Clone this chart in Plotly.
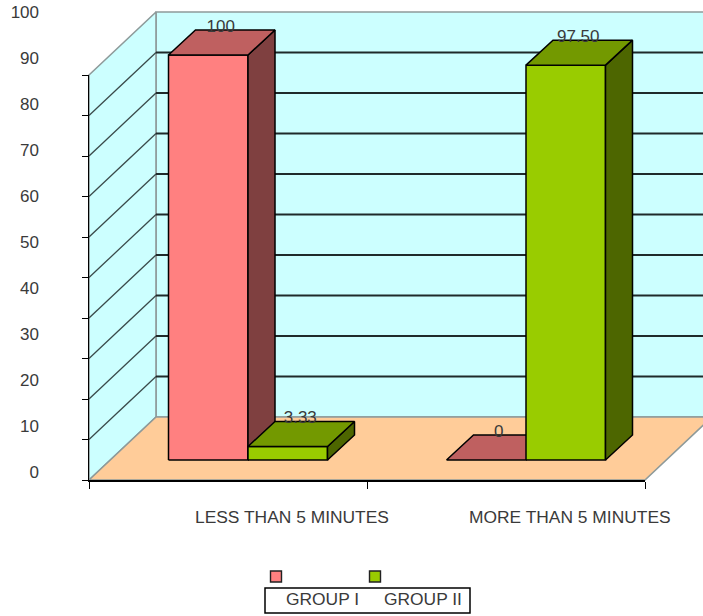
import plotly.graph_objects as go

# Chart data
categories = ["LESS THAN 5 MINUTES", "MORE THAN 5 MINUTES"]
series_names = ["GROUP I", "GROUP II"]
group_1 = [100, 0]
group_2 = [3.33, 97.5]
group_1_labels = ["100", "0"]
group_2_labels = ["3.33", "97.50"]
value_ticks = list(range(0, 101, 10))

# Face colours: front, side, top
palette_1 = ("#FF8080", "#7F4040", "#BF6060")
palette_2 = ("#99CC00", "#4D6600", "#739900")
WALL = "#CCFFFF"
FLOOR = "#FFCC99"
EDGE_GREY = "#8E9A9A"
TEXT = "#3A3A3A"
FONT = "Liberation Sans"
FONT_SIZE = 17
CAPTION_SIZE = 17.4

# Page and axis geometry, in pixels
W, H = 703, 616
AX_LEFT, AX_RIGHT = 89, 645
AX_BOTTOM, AX_TOP = 480, 75
PX_PER_CAT = (AX_RIGHT - AX_LEFT) / len(categories)
PX_PER_VAL = (AX_BOTTOM - AX_TOP) / 100


def cx(px):
    return px / PX_PER_CAT


def vy(px):
    return px / PX_PER_VAL


# Oblique projection offsets, expressed in axis units
WALL_DX, WALL_DY = cx(67), vy(63)
BAR_INSET_X, BAR_INSET_Y = cx(20), vy(20)
BAR_W = cx(79.5)
BAR_DX, BAR_DY = cx(27), vy(25)

fig = go.Figure()


def polygon(xs, ys, fill, line_color="black", width=1.5):
    fig.add_trace(go.Scatter(
        x=xs + xs[:1], y=ys + ys[:1], mode="lines", fill="toself",
        fillcolor=fill, line=dict(color=line_color, width=width),
        hoverinfo="skip", showlegend=False, xaxis="x", yaxis="y"))


def segment(xs, ys, color, width=1.4):
    fig.add_trace(go.Scatter(
        x=xs, y=ys, mode="lines", line=dict(color=color, width=width),
        hoverinfo="skip", showlegend=False, xaxis="x", yaxis="y"))


n = len(categories)

# Back wall, side wall and floor of the chart box
polygon([WALL_DX, n + WALL_DX, n + WALL_DX, WALL_DX],
        [WALL_DY, WALL_DY, 100 + WALL_DY, 100 + WALL_DY], WALL, EDGE_GREY, 1.6)
polygon([0, WALL_DX, WALL_DX, 0],
        [0, WALL_DY, 100 + WALL_DY, 100], WALL, EDGE_GREY, 1.6)
polygon([0, n, n + WALL_DX, WALL_DX],
        [0, 0, WALL_DY, WALL_DY], FLOOR, EDGE_GREY, 1.6)

# Gridlines wrap around the side wall and run along the back wall
for v in value_ticks[1:-1]:
    segment([0, WALL_DX], [v, v + WALL_DY], "#3A4A4A", 1.3)
    segment([WALL_DX, n + WALL_DX], [v + WALL_DY, v + WALL_DY], "#1F2A2A", 1.8)


def bar(cat, slot, value, colors):
    left = cat + 0.5 + BAR_INSET_X - BAR_W + slot * BAR_W
    right = left + BAR_W
    base = BAR_INSET_Y
    top = base + value
    front, side, cap = colors
    if value > 0:
        polygon([left, right, right, left], [base, base, top, top], front)
        polygon([right, right + BAR_DX, right + BAR_DX, right],
                [base, base + BAR_DY, top + BAR_DY, top], side)
    polygon([left, right, right + BAR_DX, left + BAR_DX],
            [top, top, top + BAR_DY, top + BAR_DY], cap)


for c in range(n):
    bar(c, 0, group_1[c], palette_1)
    bar(c, 1, group_2[c], palette_2)

# Value labels sit on the back edge of each bar's top face
lab_x, lab_y, lab_t = [], [], []
for slot, (vals, labs) in enumerate([(group_1, group_1_labels), (group_2, group_2_labels)]):
    for c in range(n):
        left = c + 0.5 + BAR_INSET_X - BAR_W + slot * BAR_W
        lab_x.append(left + BAR_DX + BAR_W / 2 - cx(14.5))
        lab_y.append(BAR_INSET_Y + vals[c] + BAR_DY + vy(2.5))
        lab_t.append(labs[c])
fig.add_trace(go.Scatter(
    x=lab_x, y=lab_y, text=lab_t, mode="text", textposition="middle center",
    textfont=dict(family=FONT, size=FONT_SIZE, color=TEXT),
    hoverinfo="skip", showlegend=False, xaxis="x", yaxis="y"))

# Front axes with their tick marks
fig.add_trace(go.Scatter(x=[0, 2], y=[0, 100], mode="markers", marker=dict(opacity=0),
                         hoverinfo="skip", showlegend=False, xaxis="x2", yaxis="y2"))
# Separate axis that carries the value labels
fig.add_trace(go.Scatter(x=[0, 1], y=[0, 100], mode="markers", marker=dict(opacity=0),
                         hoverinfo="skip", showlegend=False, xaxis="x3", yaxis="y3"))

# Category captions, offset to the right of the category centres
annotations = []
for c, name in enumerate(categories):
    annotations.append(dict(
        x=c + 0.5 + cx(64), y=vy(480 - 517), xref="x", yref="y", text=name, showarrow=False,
        font=dict(family=FONT, size=CAPTION_SIZE, color=TEXT), xanchor="center", yanchor="middle"))

# Legend: swatches above a framed row of names
legend_swatch_x = [276, 375]
legend_text_x = [322, 423]
shapes = [dict(type="rect", xref="paper", yref="paper", x0=265 / W, x1=470 / W,
               y0=1 - 613 / H, y1=1 - 588 / H, line=dict(color="black", width=1.5),
               fillcolor="white")]
for sx, tx, name, pal in zip(legend_swatch_x, legend_text_x, series_names, (palette_1, palette_2)):
    shapes.append(dict(type="rect", xref="paper", yref="paper", x0=(sx - 5.5) / W, x1=(sx + 5.5) / W,
                       y0=1 - 582 / H, y1=1 - 571 / H, line=dict(color="#222", width=1.4),
                       fillcolor=pal[0]))
    annotations.append(dict(x=tx / W, y=1 - 598.5 / H, xref="paper", yref="paper", text=name,
                            showarrow=False, xanchor="center", yanchor="middle",
                            font=dict(family=FONT, size=CAPTION_SIZE, color=TEXT)))

hidden = dict(visible=False, fixedrange=True)
fig.update_layout(
    width=W, height=H, margin=dict(l=0, r=0, t=0, b=0, autoexpand=False), autosize=False,
    paper_bgcolor="white", plot_bgcolor="rgba(0,0,0,0)", showlegend=False,
    shapes=shapes, annotations=annotations,
    xaxis=dict(hidden, domain=[0, 1], range=[cx(-AX_LEFT), cx(W - AX_LEFT)]),
    yaxis=dict(hidden, domain=[0, 1], range=[vy(AX_BOTTOM - H), vy(AX_BOTTOM)]),
    xaxis2=dict(domain=[AX_LEFT / W, AX_RIGHT / W], range=[0, n], anchor="y2", tickmode="array",
                tickvals=list(range(n + 1)), ticks="outside", ticklen=7, tickwidth=1.3, tickcolor="black",
                showticklabels=False, showgrid=False, zeroline=False, showline=True,
                linecolor="black", linewidth=1.5, fixedrange=True),
    yaxis2=dict(domain=[1 - AX_BOTTOM / H, 1 - AX_TOP / H], range=[0, 100], anchor="x2", tickmode="array",
                tickvals=value_ticks, ticks="outside", ticklen=6, tickwidth=1.3, tickcolor="black",
                showticklabels=False, showgrid=False, zeroline=False, showline=True,
                linecolor="black", linewidth=1, fixedrange=True),
    xaxis3=dict(hidden, domain=[40 / W, 60 / W], range=[0, 1], anchor="y3"),
    yaxis3=dict(domain=[1 - 472 / H, 1 - 12 / H], range=[0, 100], anchor="x3", tickmode="array",
                tickvals=value_ticks, ticks="", ticklen=0, showline=False, showgrid=False,
                zeroline=False, tickfont=dict(family=FONT, size=FONT_SIZE, color=TEXT), fixedrange=True),
)

fig.write_html("out.html", config=dict(displayModeBar=False))
